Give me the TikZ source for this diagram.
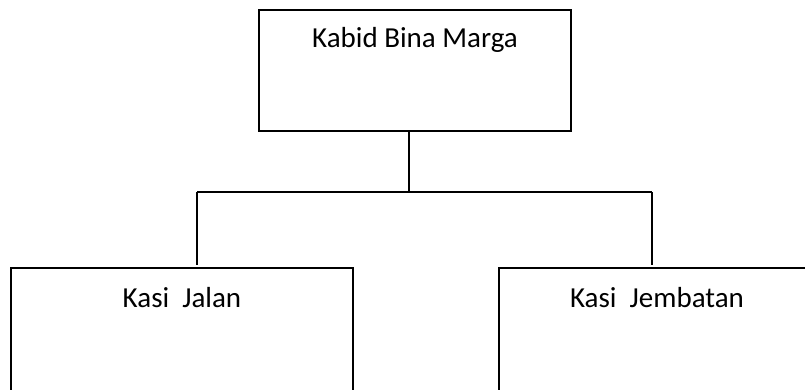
\documentclass[tikz,border=0pt]{standalone}
\usepackage{fontspec}
\setmainfont{Carlito}
\begin{document}
\begin{tikzpicture}[x=1pt,y=-1pt,
  orgbox/.style={draw=black, line width=1.8pt, inner ysep=0pt, inner xsep=0pt,
    font=\fontsize{29}{34}\selectfont},
  conn/.style={draw=black, line width=1.8pt}]
\useasboundingbox (0,0) rectangle (805,390);
\clip (0,0) rectangle (805,390);
\fill[white] (0,0) rectangle (805,390);
\node[orgbox, minimum width=312pt, text height=38pt, text depth=83pt] (kabid) at (415,70.5) {Kabid Bina Marga};
\node[orgbox, minimum width=342pt, text height=39pt, text depth=101pt] (jalan) at (182,338) {Kasi\ \ Jalan};
\node[orgbox, minimum width=316pt, text height=39pt, text depth=101pt] (jembatan) at (657,338) {Kasi\ \ Jembatan};
\coordinate (top) at (409,131);
\coordinate (mid) at (409,192);
\coordinate (bl) at (197,192);
\coordinate (br) at (652,192);
\draw[conn] (top) -- (mid);
\draw[conn] (bl) -- (br);
\draw[conn] (bl) -- (197,265);
\draw[conn] (br) -- (652,265);
\end{tikzpicture}
\end{document}
